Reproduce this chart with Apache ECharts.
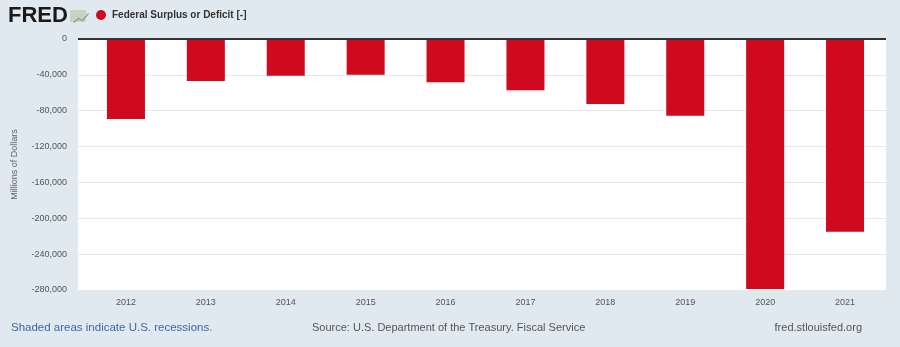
<!DOCTYPE html>
<html>
<head>
<meta charset="utf-8">
<script src="https://cdn.jsdelivr.net/npm/echarts@6/dist/echarts.min.js"></script>
<style>
  html, body { margin: 0; padding: 0; background: #e1e9f0; }
  #chart { width: 900px; height: 347px; }
</style>
</head>
<body>
<div id="chart"></div>
<script>
// Federal surplus or deficit, millions of dollars
const years = ['2012', '2013', '2014', '2015', '2016', '2017', '2018', '2019', '2020', '2021'];
const deficit = [-89200, -46900, -40900, -39800, -48300, -57200, -72500, -85500, -279000, -215000];
const yTicks = [0, -40000, -80000, -120000, -160000, -200000, -240000, -280000];

const chart = echarts.init(document.getElementById('chart'), null, { renderer: 'canvas' });

const fmt = v => v === 0 ? '0' : '-' + Math.abs(v).toLocaleString('en-US');
const yMin = yTicks[yTicks.length - 1];
const yStep = yTicks[0] - yTicks[1];

chart.setOption({
  backgroundColor: '#e1e9f0',
  animation: false,
  textStyle: { fontFamily: 'Liberation Sans, Arial, sans-serif' },
  grid: [
    { left: 86, right: 15, top: 39, bottom: 57, containLabel: false },
    // wider grid carrying the white plot background and the gridlines
    { left: 78, right: 14, top: 39, bottom: 57, containLabel: false, show: true, backgroundColor: '#ffffff', borderWidth: 0, z: -1 }
  ],
  xAxis: [{
    type: 'category',
    gridIndex: 0,
    data: years,
    axisLine: { show: false },
    axisTick: { show: false },
    axisLabel: { color: '#555', fontSize: 9, margin: 8 }
  }, {
    type: 'category',
    gridIndex: 1,
    data: years,
    show: false
  }],
  yAxis: [{
    type: 'value',
    gridIndex: 0,
    min: yMin,
    max: 0,
    interval: yStep,
    name: 'Millions of Dollars',
    nameLocation: 'middle',
    nameRotate: 90,
    nameGap: 67,
    nameTextStyle: { color: '#666', fontSize: 9 },
    axisLine: { show: false },
    axisTick: { show: false },
    splitLine: { show: false },
    axisLabel: { color: '#555', fontSize: 9, margin: 19, formatter: fmt }
  }, {
    type: 'value',
    gridIndex: 1,
    min: yMin,
    max: 0,
    interval: yStep,
    axisLine: { show: false },
    axisTick: { show: false },
    axisLabel: { show: false },
    splitLine: { lineStyle: { color: '#e8e8e8', width: 1 } }
  }],
  series: [{
    type: 'bar',
    xAxisIndex: 0,
    yAxisIndex: 0,
    data: deficit,
    barWidth: 38,
    itemStyle: { color: '#cf0a1e' },
    z: 3
  }, {
    // zero reference line along the top of the plot
    type: 'line',
    xAxisIndex: 1,
    yAxisIndex: 1,
    data: [],
    markLine: {
      silent: true,
      symbol: 'none',
      label: { show: false },
      lineStyle: { color: '#333', width: 2, type: 'solid' },
      data: [{ yAxis: 0 }]
    },
    z: 4
  }],
  graphic: [
    { type: 'text', left: 8, top: 5, style: { text: 'FRED', font: 'bold 22px Liberation Sans, Arial, sans-serif', fill: '#1a1a1a' } },
    { type: 'rect', left: 70, top: 10, shape: { width: 16, height: 12 }, style: { fill: '#c9d3c4' } },
    { type: 'polyline', left: 71, top: 11, shape: { points: [[0, 10], [5, 6], [9, 8], [15, 1]] }, style: { stroke: '#8ea07a', lineWidth: 1.2, fill: null } },
    { type: 'circle', shape: { cx: 101, cy: 15, r: 5 }, style: { fill: '#cf0a1e' } },
    { type: 'text', left: 112, top: 10, style: { text: 'Federal Surplus or Deficit [-]', font: 'bold 10px Liberation Sans, Arial, sans-serif', fill: '#333' } },
    { type: 'text', left: 11, top: 322, style: { text: 'Shaded areas indicate U.S. recessions.', font: '11.5px Liberation Sans, Arial, sans-serif', fill: '#3c68a8' } },
    { type: 'text', left: 312, top: 322, style: { text: 'Source: U.S. Department of the Treasury. Fiscal Service', font: '11px Liberation Sans, Arial, sans-serif', fill: '#555' } },
    { type: 'text', right: 38, top: 322, style: { text: 'fred.stlouisfed.org', font: '11px Liberation Sans, Arial, sans-serif', fill: '#555' } }
  ]
});
</script>
</body>
</html>
